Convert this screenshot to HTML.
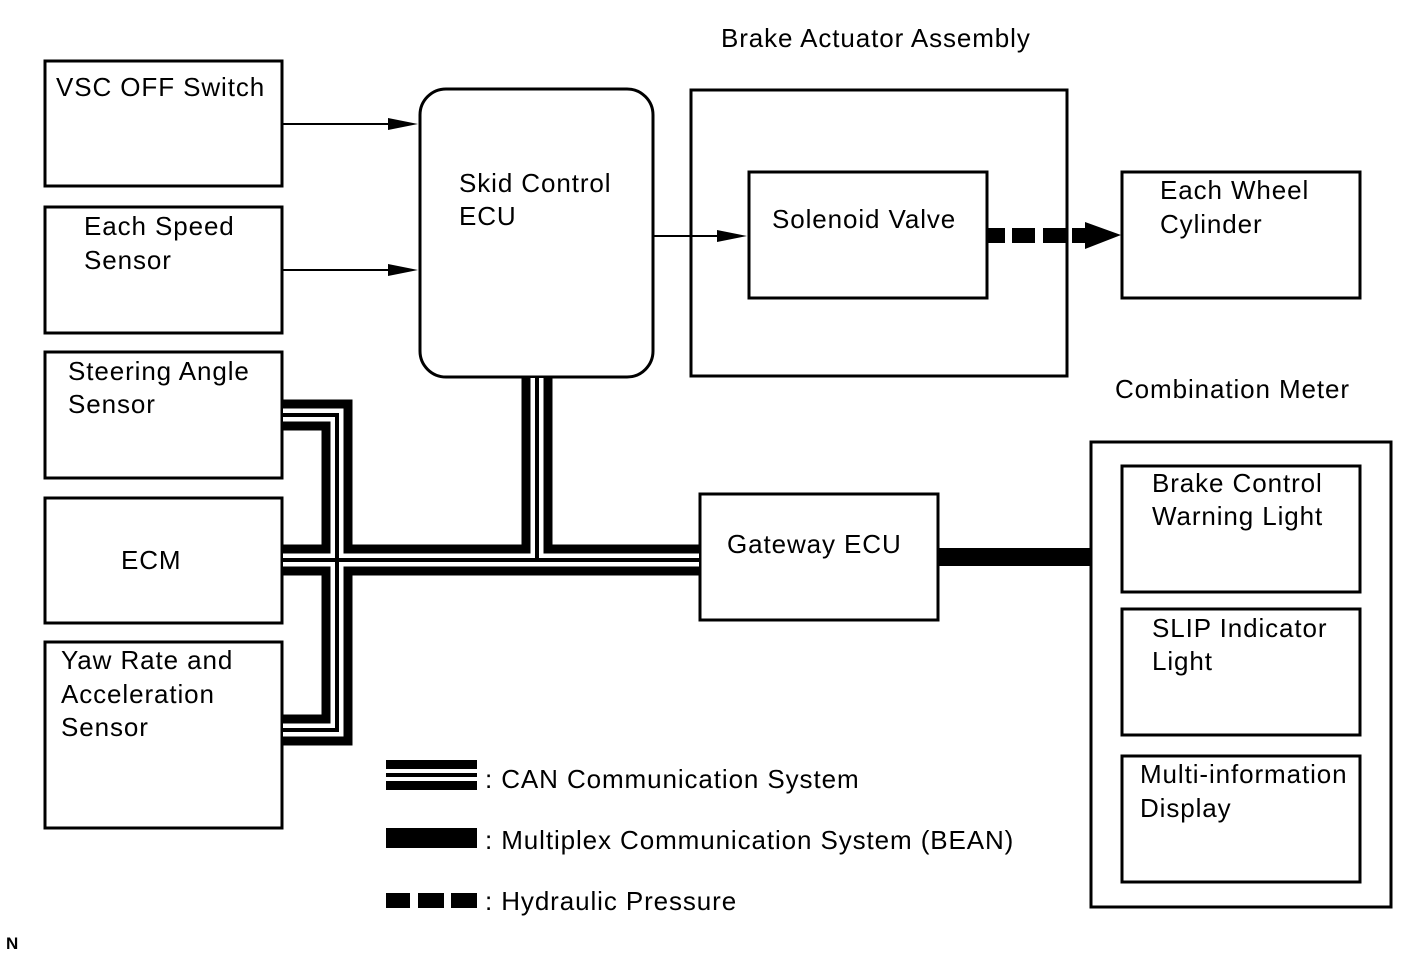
<!DOCTYPE html>
<html><head><meta charset="utf-8"><style>
body{margin:0;background:#fff}
svg text{font-family:"Liberation Sans",sans-serif;font-size:26px;letter-spacing:0.9px;fill:#000}
</style></head><body>
<svg width="1421" height="957" viewBox="0 0 1421 957" xmlns="http://www.w3.org/2000/svg">
<g fill="none" stroke="#000" stroke-width="3">
<rect x="45" y="61" width="237" height="125"/>
<rect x="45" y="207" width="237" height="126"/>
<rect x="45" y="352" width="237" height="126"/>
<rect x="45" y="498" width="237" height="125"/>
<rect x="45" y="642" width="237" height="186"/>
<rect x="420" y="89" width="233" height="288" rx="26"/>
<rect x="691" y="90" width="376" height="286"/>
<rect x="749" y="172" width="238" height="126"/>
<rect x="1122" y="172" width="238" height="126"/>
<rect x="700" y="494" width="238" height="126"/>
<rect x="1091" y="442" width="300" height="465"/>
<rect x="1122" y="466" width="238" height="126"/>
<rect x="1122" y="609" width="238" height="126"/>
<rect x="1122" y="756" width="238" height="126"/>
</g>
<g stroke="#000" stroke-width="2">
<line x1="283" y1="124" x2="395" y2="124"/>
<line x1="283" y1="270" x2="395" y2="270"/>
<line x1="654" y1="236" x2="725" y2="236"/>
</g>
<polygon points="418,124 388,118 388,130"/>
<polygon points="418,270 388,264 388,276"/>
<polygon points="747,236 717,230 717,242"/>
<g fill="#000">
<rect x="988" y="228" width="17" height="15"/>
<rect x="1012" y="228" width="23" height="15"/>
<rect x="1043" y="228" width="23" height="15"/>
<rect x="1072" y="228" width="14" height="15"/>
<polygon points="1085,222 1121,235 1085,249"/>
</g>
<rect x="939" y="548" width="152" height="18" fill="#000"/>
<g fill="none" stroke-linejoin="miter" stroke-linecap="butt">
<path d="M283 415 H337 V730 H283 M283 560 H699 M537 378 V560" stroke="#000" stroke-width="31"/>
<path d="M283 415 H337 V730 H283 M283 560 H699 M537 378 V560" stroke="#fff" stroke-width="13"/>
<path d="M283 415 H337 V730 H283 M283 560 H699 M537 378 V560" stroke="#000" stroke-width="4"/>
</g>
<rect x="386" y="760" width="91" height="9"/>
<rect x="386" y="773" width="91" height="4"/>
<rect x="386" y="781" width="91" height="9"/>
<rect x="386" y="828" width="91" height="20"/>
<rect x="386" y="893" width="24" height="15"/>
<rect x="418" y="893" width="26" height="15"/>
<rect x="451" y="893" width="26" height="15"/>
<text x="485" y="788">: CAN Communication System</text>
<text x="485" y="849">: Multiplex Communication System (BEAN)</text>
<text x="485" y="910">: Hydraulic Pressure</text>
<text x="56" y="96">VSC OFF Switch</text>
<text x="84" y="235">Each Speed</text>
<text x="84" y="269">Sensor</text>
<text x="68" y="380">Steering Angle</text>
<text x="68" y="413">Sensor</text>
<text x="121" y="569">ECM</text>
<text x="61" y="669">Yaw Rate and</text>
<text x="61" y="703">Acceleration</text>
<text x="61" y="736">Sensor</text>
<text x="459" y="192">Skid Control</text>
<text x="459" y="225">ECU</text>
<text x="721" y="47">Brake Actuator Assembly</text>
<text x="772" y="228">Solenoid Valve</text>
<text x="1160" y="199">Each Wheel</text>
<text x="1160" y="233">Cylinder</text>
<text x="727" y="553">Gateway ECU</text>
<text x="1115" y="398">Combination Meter</text>
<text x="1152" y="492">Brake Control</text>
<text x="1152" y="525">Warning Light</text>
<text x="1152" y="637">SLIP Indicator</text>
<text x="1152" y="670">Light</text>
<text x="1140" y="783">Multi-information</text>
<text x="1140" y="817">Display</text>
<text x="6" y="949" style="font-size:17px;font-weight:bold;letter-spacing:0">N</text>
</svg>
</body></html>
